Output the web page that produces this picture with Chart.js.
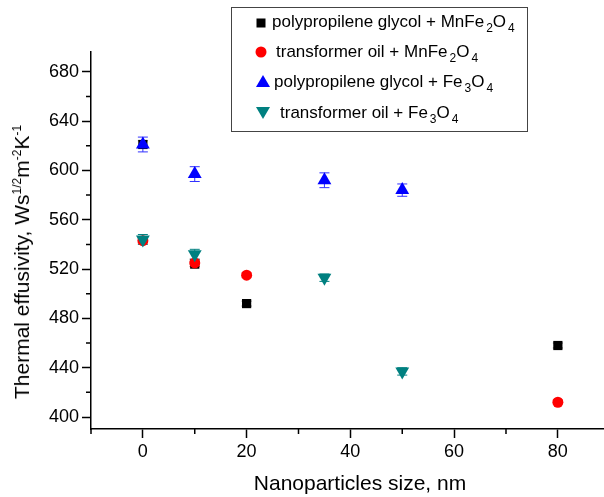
<!DOCTYPE html>
<html>
<head>
<meta charset="utf-8">
<script src="https://cdn.jsdelivr.net/npm/chart.js@4.4.1/dist/chart.umd.min.js"></script>
<style>
body{margin:0;background:#fff;font-family:"Liberation Sans",Arial,sans-serif;}
#wrap{position:relative;width:604px;height:497px;}
#legend{position:absolute;left:231px;top:7px;width:297px;height:125px;border:1.5px solid #444;box-sizing:border-box;}
.row{position:absolute;font-size:17px;white-space:nowrap;line-height:18px;}
.mk{position:absolute;}
.row sub{font-size:12px;vertical-align:-5px;margin-left:2px;}
#ytitle{position:absolute;left:22px;top:262px;transform:translate(-50%,-50%) rotate(-90deg);font-size:21px;white-space:nowrap;}
#ytitle sup{font-size:12px;vertical-align:8px;}
#xtitle{position:absolute;left:360px;top:483px;transform:translate(-50%,-50%);font-size:21px;white-space:nowrap;}
canvas{display:block;}
</style>
</head>
<body>
<div id="wrap">
<canvas id="myChart" width="604" height="497"></canvas>
<div id="ytitle">Thermal effusivity, Ws<sup>1/2</sup>m<sup>-2</sup>K<sup>-1</sup></div>
<div id="xtitle">Nanoparticles size, nm</div>
<div id="legend">
  <svg class="mk" style="left:23px;top:9px" width="12" height="12"><rect x="1.5" y="1.5" width="9" height="9" fill="#000"/></svg>
  <div class="row" style="left:40px;top:5px">polypropilene glycol + MnFe<sub>2</sub>O<sub>4</sub></div>
  <svg class="mk" style="left:23px;top:38px" width="12" height="12"><circle cx="6" cy="6" r="5.5" fill="#ff0000"/></svg>
  <div class="row" style="left:44px;top:35px">transformer oil + MnFe<sub>2</sub>O<sub>4</sub></div>
  <svg class="mk" style="left:24px;top:67px" width="14" height="13"><polygon points="7,0 14,12 0,12" fill="#0000ff"/></svg>
  <div class="row" style="left:42px;top:65px">polypropilene glycol + Fe<sub>3</sub>O<sub>4</sub></div>
  <svg class="mk" style="left:24px;top:99px" width="14" height="13"><polygon points="0,0 14,0 7,12" fill="#008080"/></svg>
  <div class="row" style="left:48px;top:96px">transformer oil + Fe<sub>3</sub>O<sub>4</sub></div>
</div>
</div>
<script>
// values
const ppgMnSize = [0, 10, 20, 80];
const ppgMnEff = [621, 524, 492, 458];
const ppgMnErr = [3, 2, 2, 2];

const oilMnSize = [0, 10, 20, 80];
const oilMnEff = [543, 525, 515, 412];
const oilMnErr = [2, 3, 2, 2];

const ppgFeSize = [0, 10, 35, 50];
const ppgFeEff = [621, 597, 592, 584];
const ppgFeErr = [6, 6, 6, 5];

const oilFeSize = [0, 10, 35, 50];
const oilFeEff = [544, 532, 513, 437];
const oilFeErr = [4, 4, 3, 3];

const yTicks = [400, 420, 440, 460, 480, 500, 520, 540, 560, 580, 600, 620, 640, 660, 680];
const xTicks = [-10, 0, 10, 20, 30, 40, 50, 60, 70, 80];

function pts(xs, ys, es) {
  let out = [];
  for (let i = 0; i < xs.length; i++) {
    out.push({x: xs[i], y: ys[i], err: es[i]});
  }
  return out;
}

// error bars, drawn under the markers
const errorBars = {
  id: 'errorBars',
  beforeDatasetsDraw(chart) {
    const ctx = chart.ctx;
    const xs = chart.scales.x, ys = chart.scales.y;
    chart.data.datasets.forEach(ds => {
      ctx.save();
      ctx.strokeStyle = ds.barColor;
      ctx.lineWidth = 1;
      ds.data.forEach(p => {
        const px = xs.getPixelForValue(p.x);
        const top = ys.getPixelForValue(p.y + p.err);
        const bot = ys.getPixelForValue(p.y - p.err);
        ctx.beginPath();
        ctx.moveTo(px, top); ctx.lineTo(px, bot);
        ctx.moveTo(px - 5, top); ctx.lineTo(px + 5, top);
        ctx.moveTo(px - 5, bot); ctx.lineTo(px + 5, bot);
        ctx.stroke();
      });
      ctx.restore();
    });
  }
};

// short minor ticks
const minorTicks = {
  id: 'minorTicks',
  afterDraw(chart) {
    const ctx = chart.ctx;
    const xs = chart.scales.x, ys = chart.scales.y;
    ctx.save();
    ctx.strokeStyle = '#000';
    ctx.lineWidth = 1.5;
    ctx.beginPath();
    xTicks.forEach(v => {
      if (v % 20 !== 0) {
        const px = xs.getPixelForValue(v);
        ctx.moveTo(px, xs.top); ctx.lineTo(px, xs.top + 5);
      }
    });
    yTicks.forEach(v => {
      if (v % 40 !== 0) {
        const py = ys.getPixelForValue(v);
        ctx.moveTo(ys.right, py); ctx.lineTo(ys.right - 5, py);
      }
    });
    ctx.stroke();
    ctx.restore();
  }
};

const font = {family: '"Liberation Sans", Arial, sans-serif', size: 18};

const data = {
  datasets: [
    {label: 'polypropilene glycol + MnFe2O4', data: pts(ppgMnSize, ppgMnEff, ppgMnErr),
     pointStyle: 'rect', pointRadius: 6.5, backgroundColor: '#000', borderColor: '#000', borderWidth: 0, barColor: '#6a6a6a', order: 4},
    {label: 'transformer oil + MnFe2O4', data: pts(oilMnSize, oilMnEff, oilMnErr),
     pointStyle: 'circle', pointRadius: 5.5, backgroundColor: '#ff0000', borderColor: '#ff0000', borderWidth: 0, barColor: '#ff6060', order: 3},
    {label: 'polypropilene glycol + Fe3O4', data: pts(ppgFeSize, ppgFeEff, ppgFeErr),
     pointStyle: 'triangle', pointRadius: 8, backgroundColor: '#0000ff', borderColor: '#0000ff', borderWidth: 0, barColor: '#3030ff', order: 2},
    {label: 'transformer oil + Fe3O4', data: pts(oilFeSize, oilFeEff, oilFeErr),
     pointStyle: 'triangle', rotation: 180, pointRadius: 8, backgroundColor: '#008080', borderColor: '#008080', borderWidth: 0, barColor: '#008080', order: 1}
  ]
};

const config = {
  type: 'scatter',
  data: data,
  options: {
    responsive: false,
    animation: false,
    devicePixelRatio: 1,
    layout: {autoPadding: false, padding: {left: 0, top: 52, right: 1, bottom: 0}},
    plugins: {legend: {display: false}, tooltip: {enabled: false}},
    scales: {
      x: {
        type: 'linear', min: -10, max: 88.7,
        afterBuildTicks: s => { s.ticks = xTicks.map(v => ({value: v})); },
        afterFit: s => { s.height = 68; s.paddingLeft = 0; s.paddingRight = 0; },
        ticks: {font: font, color: '#000', padding: 3, maxRotation: 0,
          callback: v => (v % 20 === 0 ? String(v) : '')},
        grid: {drawOnChartArea: false, drawTicks: true, tickLength: 9, tickWidth: 1.5,
          tickColor: c => (c.tick && c.tick.value % 20 === 0 ? '#000' : 'rgba(0,0,0,0)')},
        border: {display: true, color: '#000', width: 1.5}
      },
      y: {
        type: 'linear', min: 390.3, max: 696,
        afterBuildTicks: s => { s.ticks = yTicks.map(v => ({value: v})); },
        afterFit: s => { s.width = 91; s.paddingTop = 0; s.paddingBottom = 0; },
        ticks: {font: font, color: '#000', padding: 3,
          callback: v => (v % 40 === 0 ? String(v) : '')},
        grid: {drawOnChartArea: false, drawTicks: true, tickLength: 9, tickWidth: 1.5,
          tickColor: c => (c.tick && c.tick.value % 40 === 0 ? '#000' : 'rgba(0,0,0,0)')},
        border: {display: true, color: '#000', width: 1.5}
      }
    }
  },
  plugins: [errorBars, minorTicks]
};

const myChart = new Chart(document.getElementById('myChart'), config);
</script>
</body>
</html>
